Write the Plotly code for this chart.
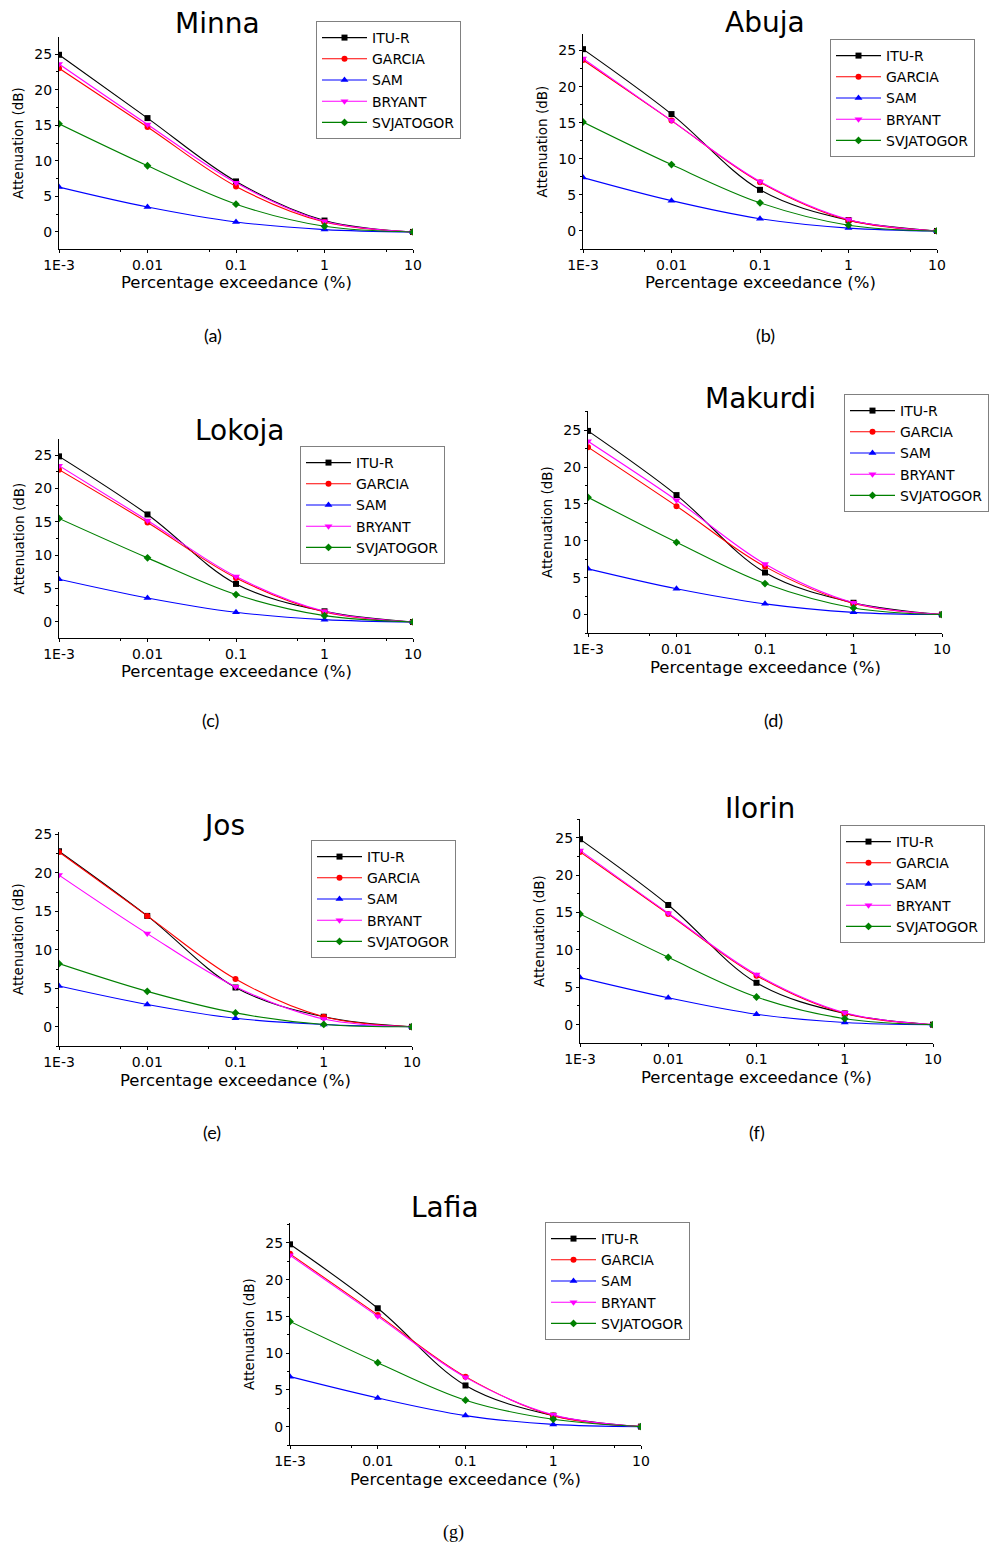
import plotly.graph_objects as go

# ---------------- data ----------------
X_VALS = [0.001, 0.01, 0.1, 1, 10]
X_TICKTEXT = ["1E-3", "0.01", "0.1", "1", "10"]
Y_TICKS = [0, 5, 10, 15, 20, 25]
STATIONS = ["Minna", "Abuja", "Lokoja", "Makurdi", "Jos", "Ilorin", "Lafia"]
CAPTIONS = ["(a)", "(b)", "(c)", "(d)", "(e)", "(f)", "(g)"]
MODELS = ["ITU-R", "GARCIA", "SAM", "BRYANT", "SVJATOGOR"]

# rows: Minna, Abuja, Lokoja, Makurdi, Jos, Ilorin, Lafia
ITU_R = [
    [24.9, 16.0, 7.1, 1.6, 0],
    [25.2, 16.2, 5.7, 1.5, 0],
    [24.8, 16.1, 5.7, 1.6, 0],
    [24.9, 16.2, 5.7, 1.6, 0],
    [22.8, 14.4, 5.1, 1.3, 0],
    [24.8, 16.0, 5.6, 1.5, 0],
    [24.8, 16.1, 5.6, 1.5, 0],
]
GARCIA = [
    [23.0, 14.75, 6.4, 1.4, 0],
    [23.7, 15.3, 6.75, 1.5, 0],
    [22.8, 14.9, 6.6, 1.5, 0],
    [22.7, 14.7, 6.5, 1.5, 0],
    [22.7, 14.4, 6.2, 1.3, 0],
    [23.1, 14.8, 6.55, 1.5, 0],
    [23.5, 15.2, 6.8, 1.5, 0],
]
SAM = [
    [6.3, 3.5, 1.4, 0.33, 0],
    [7.4, 4.2, 1.7, 0.4, 0],
    [6.4, 3.6, 1.45, 0.35, 0],
    [6.2, 3.5, 1.45, 0.3, 0],
    [5.3, 2.9, 1.1, 0.3, 0],
    [6.3, 3.6, 1.4, 0.3, 0],
    [6.8, 3.9, 1.5, 0.3, 0],
]
BRYANT = [
    [23.6, 15.1, 6.9, 1.5, 0],
    [23.9, 15.3, 6.85, 1.6, 0],
    [23.4, 15.2, 6.8, 1.6, 0],
    [23.5, 15.5, 6.85, 1.6, 0],
    [19.7, 12.1, 5.2, 1.0, 0],
    [23.3, 14.9, 6.7, 1.6, 0],
    [23.3, 15.0, 6.7, 1.6, 0],
]
SVJATOGOR = [
    [15.2, 9.3, 3.9, 0.8, 0],
    [15.1, 9.2, 3.9, 0.8, 0],
    [15.5, 9.6, 4.1, 0.95, 0],
    [15.9, 9.8, 4.2, 0.9, 0],
    [8.2, 4.6, 1.8, 0.3, 0],
    [14.8, 9.0, 3.7, 0.8, 0],
    [14.3, 8.7, 3.6, 1.0, 0],
]

# ---------------- layout / style ----------------
W, H = 1007, 1545
# plot areas in pixels: x0, x1, y_top, y_bottom
PANELS = [
    (59, 413, 37, 249),
    (583, 937, 34, 249),
    (59, 413, 439, 638),
    (588, 942, 411, 633),
    (59, 412, 832, 1046),
    (580, 933, 819, 1043),
    (290, 641, 1223, 1445),
]
Y_RANGES = [
    [-2.4, 27.4], [-2.5, 27.3], [-2.4, 27.4], [-2.5, 27.6],
    [-2.5, 25.3], [-2.45, 27.5], [-2.5, 27.7],
]
TITLE_POS = [(217, 23), (765, 22), (240, 430), (760, 398), (224, 825), (760, 808), (445, 1207)]
LEGEND_POS = [(316, 21), (830, 39), (300, 446), (844, 394), (311, 840), (840, 825), (545, 1222)]
CAPTION_POS = [(213, 335), (765, 335), (210, 720), (773, 720), (212, 1132), (757, 1132), (453, 1532)]

COLORS = ["#000000", "#FF0000", "#0000FF", "#FF00FF", "#008000"]
SYMBOLS = ["square", "circle", "triangle-up", "triangle-down", "diamond"]
SIZES = [6, 6, 7, 7, 6]
SERIES = [ITU_R, GARCIA, SAM, BRYANT, SVJATOGOR]

FONT = "DejaVu Sans"


def px(x):
    return x / W


def py(y):
    return 1 - y / H


fig = go.Figure()
layout = dict(
    width=W, height=H,
    margin=dict(l=0, r=0, t=0, b=0, autoexpand=False),
    paper_bgcolor="white", plot_bgcolor="white",
    showlegend=True,
    annotations=[],
)

for i, station in enumerate(STATIONS):
    sfx = "" if i == 0 else str(i + 1)
    leg = "legend" + sfx
    x0, x1, yt, yb = PANELS[i]
    for m, name in enumerate(MODELS):
        fig.add_trace(go.Scatter(
            x=X_VALS, y=SERIES[m][i], name=name, mode="lines+markers",
            line=dict(color=COLORS[m], width=1.1, shape="spline", smoothing=1.0),
            marker=dict(symbol=SYMBOLS[m], size=SIZES[m], color=COLORS[m]),
            xaxis="x" + sfx, yaxis="y" + sfx, legend=leg,
        ))
    layout["xaxis" + sfx] = dict(
        type="log", range=[-3, 1], domain=[px(x0), px(x1)], anchor="y" + sfx,
        tickmode="array", tickvals=X_VALS, ticktext=X_TICKTEXT,
        ticks="outside", ticklen=3, tickwidth=1, tickcolor="black",
        showline=True, linecolor="black", linewidth=1.2,
        showgrid=False, zeroline=False,
        minor=dict(tickmode="array", tickvals=[0.005, 0.05, 0.5, 5], ticks="outside",
                   ticklen=2, tickwidth=1, tickcolor="black", showgrid=False),
        tickfont=dict(family=FONT, size=14, color="black"),
    )
    layout["yaxis" + sfx] = dict(
        range=Y_RANGES[i], domain=[py(yb), py(yt)], anchor="x" + sfx,
        tickmode="array", tickvals=Y_TICKS,
        ticks="outside", ticklen=3, tickwidth=1, tickcolor="black",
        showline=True, linecolor="black", linewidth=1.2,
        showgrid=False, zeroline=False,
        minor=dict(tick0=0, dtick=2.5, ticks="outside", ticklen=2, tickwidth=1,
                   tickcolor="black", showgrid=False),
        tickfont=dict(family=FONT, size=14, color="black"),
    )
    lx, ly = LEGEND_POS[i]
    layout[leg] = dict(
        x=px(lx), y=py(ly), xanchor="left", yanchor="top",
        bgcolor="white", bordercolor="#808080", borderwidth=1,
        font=dict(family=FONT, size=14, color="black"),
        tracegroupgap=0, itemwidth=45,
    )
    tx, ty = TITLE_POS[i]
    layout["annotations"].append(dict(
        text=station, x=px(tx), y=py(ty), xref="paper", yref="paper",
        xanchor="center", yanchor="middle", showarrow=False,
        font=dict(family=FONT, size=28, color="black"),
    ))
    # axis titles
    layout["annotations"].append(dict(
        text="Attenuation (dB)", x=px(x0 - 41), y=py((yt + yb) / 2),
        xref="paper", yref="paper", xanchor="center", yanchor="middle",
        textangle=-90, showarrow=False,
        font=dict(family=FONT, size=13.5, color="black"),
    ))
    layout["annotations"].append(dict(
        text="Percentage exceedance (%)", x=px((x0 + x1) / 2), y=py(yb + 34),
        xref="paper", yref="paper", xanchor="center", yanchor="middle",
        showarrow=False, font=dict(family=FONT, size=16.5, color="black"),
    ))
    cx, cy = CAPTION_POS[i]
    layout["annotations"].append(dict(
        text=CAPTIONS[i], x=px(cx), y=py(cy), xref="paper", yref="paper",
        xanchor="center", yanchor="middle", showarrow=False,
        font=dict(family="Liberation Serif" if i == 6 else "Lato", size=18, color="black"),
    ))

fig.update_layout(**layout)
fig.write_html(
    "out.html",
    config={"displayModeBar": False},
    post_script="document.body.style.margin='0';document.body.style.overflow='hidden';",
)
